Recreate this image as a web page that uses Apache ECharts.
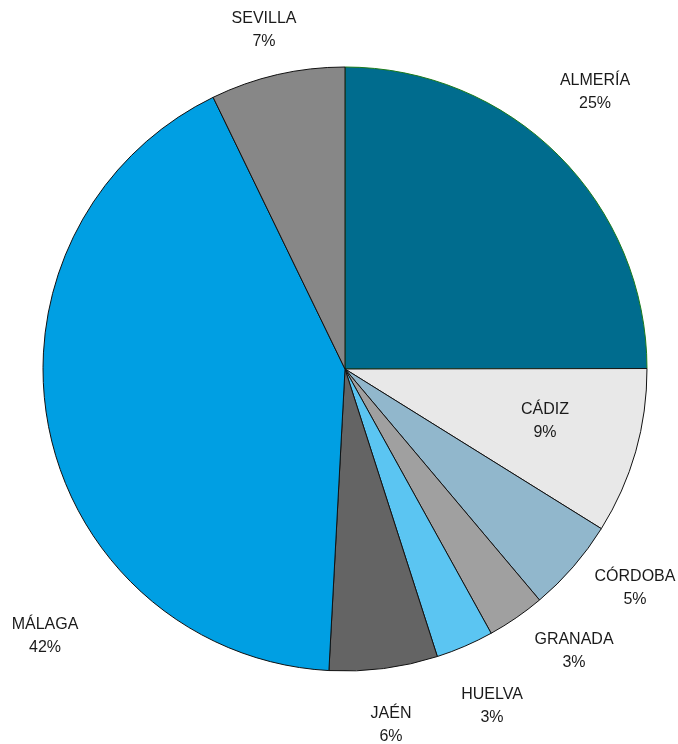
<!DOCTYPE html>
<html>
<head>
<meta charset="utf-8">
<script src="https://cdn.jsdelivr.net/npm/echarts@6/dist/echarts.min.js"></script>
<style>
html,body{margin:0;padding:0;background:#fff;}
#chart{width:678px;height:744px;}
</style>
</head>
<body>
<div id="chart"></div>
<script>
// Data
var categories = ['ALMERÍA', 'CÁDIZ', 'CÓRDOBA', 'GRANADA', 'HUELVA', 'JAÉN', 'MÁLAGA', 'SEVILLA'];
var values = [25, 8.9, 5, 3.1, 3.1, 5.8, 42, 7.2];
var percentLabels = ['25%', '9%', '5%', '3%', '3%', '6%', '42%', '7%'];

// Styles / layout
var colors = ['#006C8E', '#E8E8E8', '#91B7CC', '#A0A0A0', '#5BC5F2', '#646464', '#009FE3', '#878787'];
var borderColors = ['#1a7a1a', '#111', '#111', '#111', '#111', '#111', '#111', '#111'];
var pieCenter = [345, 369];
var pieRadius = 302;
// label block centre offsets from pie centre
var labelOffsets = [[250, -277], [200, 52], [290, 219], [229, 282], [147, 337], [46, 356], [-300, 267], [-81, -339]];

var chart = echarts.init(document.getElementById('chart'), null, {renderer: 'canvas'});
var data = categories.map(function (c, i) {
  return {
    name: c,
    value: values[i],
    itemStyle: {color: colors[i], borderColor: borderColors[i], borderWidth: 1}
  };
});
chart.setOption({
  animation: false,
  series: [{
    type: 'pie',
    center: pieCenter,
    radius: pieRadius,
    startAngle: 90,
    clockwise: true,
    data: data,
    avoidLabelOverlap: false,
    label: {
      show: true,
      position: 'outside',
      alignTo: 'none',
      overflow: 'none',
      fontFamily: 'Liberation Sans, Arial, sans-serif',
      fontSize: 16,
      lineHeight: 23,
      color: '#1a1a1a',
      align: 'center',
      formatter: function (p) { return p.name + '\n' + percentLabels[p.dataIndex]; }
    },
    labelLine: {show: false},
    labelLayout: function (p) {
      var o = labelOffsets[p.dataIndex];
      return {x: pieCenter[0] + o[0], y: pieCenter[1] + o[1], align: 'center', verticalAlign: 'middle', hideOverlap: false, moveOverlap: false};
    },
    emphasis: {disabled: true}
  }]
});
</script>
</body>
</html>
